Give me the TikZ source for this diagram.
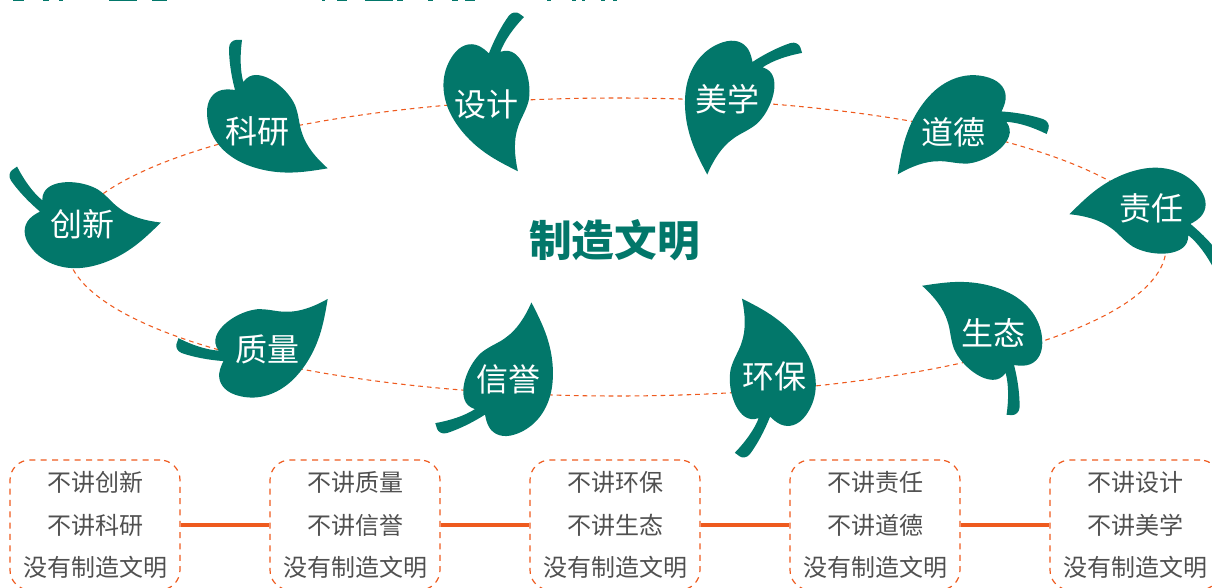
\documentclass[tikz,border=0pt]{standalone}
\usepackage{fontspec}
\setmainfont{Noto Sans CJK SC}
\definecolor{teal}{HTML}{02776A}
\definecolor{org}{HTML}{EE5A1E}
\definecolor{txt}{HTML}{505050}
\tikzset{
  leafshape/.style={fill=teal,draw=none},
  leaflabel/.style={text=white,font=\fontsize{24}{24}\selectfont,inner sep=0pt},
  ring/.style={draw=org,line width=0.8pt,dash pattern=on 3.5pt off 3pt},
  textbox/.style={draw=org,line width=0.9pt,dash pattern=on 4.5pt off 4pt,rounded corners=15pt,
    minimum width=127.5pt,minimum height=97.5pt,inner sep=0pt,align=center,text=txt,
    font=\fontsize{18}{32}\selectfont},
  link/.style={draw=org,line width=3.2pt},
  title/.style={text=teal,font=\fontsize{32}{32}\selectfont\bfseries,inner sep=0pt}
}
\newcommand{\threelines}[3]{\raisebox{0.75pt}{#1}\\\raisebox{0.75pt}{#2}\\\raisebox{0.75pt}{#3}}
\newcommand{\myleaf}[3]{%
  \begin{scope}[shift={(#1,#2)},rotate=-#3,shift={(-239,-86)}]
    \path[leafshape] (235,90) .. controls (231,75) and (229,60) .. (229,48)
      .. controls (229,43) and (233,40) .. (236,40) -- (242,40)
      .. controls (240,55) and (240,70) .. (243.3,82)
      .. controls (247,77) and (251,75) .. (256,75)
      .. controls (270,75) and (288,90) .. (295,105)
      .. controls (299,115) and (299,125) .. (302,133)
      .. controls (306,146) and (316,158) .. (327.7,168.3)
      .. controls (312,171) and (298,173) .. (285,172.5)
      .. controls (265,172) and (245,166) .. (232,157)
      .. controls (216,146) and (207,130) .. (207,112)
      .. controls (207,100) and (213,92) .. (222,90)
      .. controls (227,89) and (231,89.5) .. (235,90) -- cycle;
  \end{scope}
}
\begin{document}
\begin{tikzpicture}[x=0.75pt,y=-0.75pt]
\useasboundingbox (0,0) rectangle (1212,588);
\clip (0,0) rectangle (1212,588);
% cut-off strip at the top edge
\foreach \a/\b in {13/24,43/49,59/63,109/137,152/167,322/325,337/347,365/393,397/403,428/433,452/458,465/475,547/551,572/576,582/585,601/605,613/617}
  \fill[teal] (\a,0) rectangle (\b,1.5);
% ring
\draw[ring] (616.5,247) ellipse [x radius=412.2pt,y radius=111.75pt];
% leaves
\myleaf{239}{86}{0}
\myleaf{41}{206}{-35}
\myleaf{494.5}{52.5}{36}
\myleaf{757.5}{64.5}{71.7}
\myleaf{1004}{116.5}{108.6}
\myleaf{1189.5}{229.5}{144.4}
\myleaf{1010}{369}{180.6}
\myleaf{764.5}{417.5}{216.4}
\myleaf{480}{412}{252.3}
\myleaf{221}{356}{289}
\node[leaflabel] (keyan) at (257,131) {科研};
\node[leaflabel] (chuangxin) at (82,224) {创新};
\node[leaflabel] (sheji) at (486,104) {设计};
\node[leaflabel] (meixue) at (727,99) {美学};
\node[leaflabel] (daode) at (953,132) {道德};
\node[leaflabel] (zeren) at (1151,208) {责任};
\node[leaflabel] (shengtai) at (993,333) {生态};
\node[leaflabel] (huanbao) at (774,376) {环保};
\node[leaflabel] (xinyu) at (508,379) {信誉};
\node[leaflabel] (zhiliang) at (267,349) {质量};
\node[title] (centre) at (614.5,240) {制造文明};
% boxes
\node[textbox] (b1) at (95,525) {\threelines{不讲创新}{不讲科研}{没有制造文明}};
\node[textbox] (b2) at (355,525) {\threelines{不讲质量}{不讲信誉}{没有制造文明}};
\node[textbox] (b3) at (615,525) {\threelines{不讲环保}{不讲生态}{没有制造文明}};
\node[textbox] (b4) at (875,525) {\threelines{不讲责任}{不讲道德}{没有制造文明}};
\node[textbox] (b5) at (1135,525) {\threelines{不讲设计}{不讲美学}{没有制造文明}};
\draw[link] (b1) -- (b2);
\draw[link] (b2) -- (b3);
\draw[link] (b3) -- (b4);
\draw[link] (b4) -- (b5);
\end{tikzpicture}
\end{document}
